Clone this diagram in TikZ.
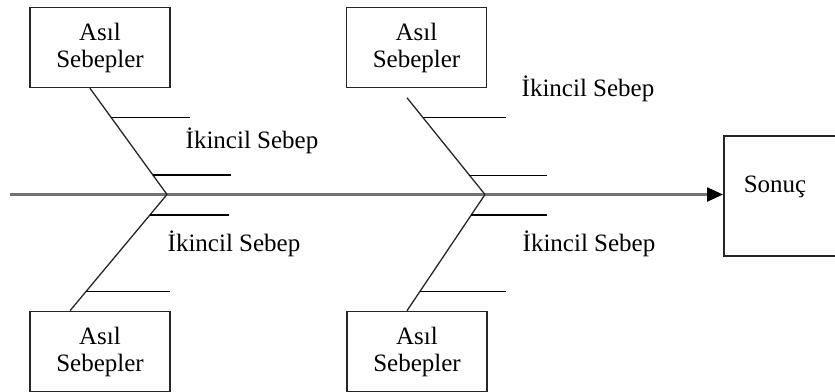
\documentclass[tikz,border=0pt]{standalone}
\usepackage{fontspec}
\setmainfont{Liberation Serif}
\usetikzlibrary{calc,arrows.meta}

\begin{document}
\begin{tikzpicture}[x=0.5pt, y=-0.5pt, font=\fontsize{12.5}{13.5}\selectfont,
  cause/.style={draw=black!85, line width=0.8pt, minimum width=70pt, minimum height=40pt, align=center, inner sep=0pt},
  spine/.style={black!55, line width=1.2pt},
  bone/.style={black!85, line width=0.65pt},
  rib/.style={black, line width=0.6pt}]
  \useasboundingbox (0,0) rectangle (835,391);
  \clip (0,0) rectangle (835,391);

  % Main causes (two above, two below the spine)
  \foreach \i/\x/\y in {1/100/47.5, 2/416.5/47.5, 3/100/351.5, 4/417/351.5} {
    \node[cause] (c\i) at (\x,\y) {Asıl\\Sebepler};
  }

  % Result box, runs off the right edge
  \node[cause, minimum height=60pt, anchor=north west, align=left, text width=50pt, inner xsep=10pt, text depth=11.5pt] (sonuc) at (723,135) {Sonuç};

  % Spine
  \coordinate (tail) at (10,194.5);
  \draw[spine, -{Triangle[length=8pt, width=7pt, color=black]}] (tail) -- (tail -| sonuc.west);

  % Joints on the spine and free ends of the bones
  \coordinate (j1) at (167,194.5);
  \coordinate (j2) at (485,194.5);
  \coordinate (t1) at ($(c1.south)+(-10,0)$);
  \coordinate (t2) at ($(c2.south)+(-9.5,9.5)$);
  \coordinate (t3) at ($(c3.north)+(-30,0)$);
  \coordinate (t4) at ($(c4.north)+(-10,0)$);

  % Bones
  \draw[bone] (t1) -- (j1);
  \draw[bone] (t2) -- (j2);
  \draw[bone] (j1) -- (t3);
  \draw[bone] (j2) -- (t4);

  % Ribs (secondary causes)
  \draw[rib] ($(t1)!0.272!(j1)$) -- ++(79,0);
  \draw[rib] ($(t1)!0.817!(j1)$) -- ++(78,0);
  \draw[rib] ($(t2)!0.205!(j2)$) -- ++(83,0);
  \draw[rib] ($(t2)!0.80!(j2)$) -- ++(78,0);
  \draw[rib] ($(j1)!0.176!(t3)$) -- ++(79,0);
  \draw[rib] ($(j1)!0.837!(t3)$) -- ++(84,0);
  \draw[rib] ($(j2)!0.176!(t4)$) -- ++(76,0);
  \draw[rib] ($(j2)!0.837!(t4)$) -- ++(86,0);

  % Secondary cause labels
  \node (s1) at (252,141) {İkincil Sebep};
  \node (s2) at (588,89) {İkincil Sebep};
  \node (s3) at (234,244) {İkincil Sebep};
  \node (s4) at (589,244) {İkincil Sebep};
\end{tikzpicture}
\end{document}
